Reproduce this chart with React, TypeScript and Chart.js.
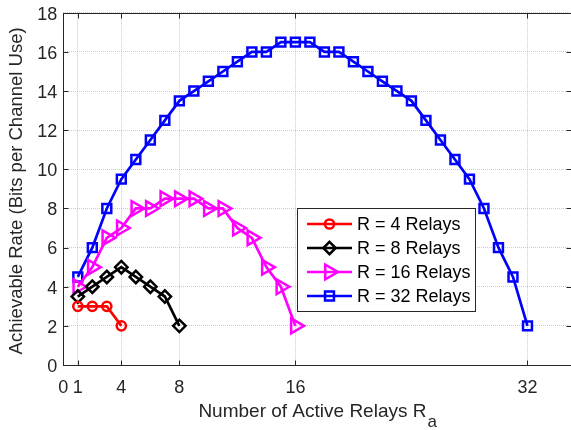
import React, { useEffect, useRef } from "react";
import { Chart, registerables } from "chart.js";
Chart.register(...registerables);

const xTickValues = [0, 1, 4, 8, 16, 32];
const yTickValues = [0, 2, 4, 6, 8, 10, 12, 14, 16, 18];

const seriesLabels = ["R = 4 Relays", "R = 8 Relays", "R = 16 Relays", "R = 32 Relays"];
const seriesColors = ["#FF0000", "#000000", "#FF00FF", "#0000FF"];

const rate4 = [3, 3, 3, 2];
const rate8 = [3.5, 4, 4.5, 5, 4.5, 4, 3.5, 2];
const rate16 = [4, 5, 6.5, 7, 8, 8, 8.5, 8.5, 8.5, 8, 8, 7, 6.5, 5, 4, 2];
const rate32 = [
  4.5, 6, 8, 9.5, 10.5, 11.5, 12.5, 13.5, 14, 14.5, 15, 15.5, 16, 16, 16.5, 16.5,
  16.5, 16, 16, 15.5, 15, 14.5, 14, 13.5, 12.5, 11.5, 10.5, 9.5, 8, 6, 4.5, 2,
];

const xTitle = "Number of Active Relays R";
const xTitleSub = "a";
const yTitle = "Achievable Rate (Bits per Channel Use)";

const FONT = "'Liberation Sans', Arial, Helvetica, sans-serif";
const AXIS_COLOR = "#262626";

const W = 571;
const H = 430;

const toPoints = (vals: number[]) => vals.map((y, i) => ({ x: i + 1, y }));

type Marker = { style: string; radius: number; rotation: number };
const markers: Marker[] = [
  { style: "circle", radius: 4.6, rotation: 0 },
  { style: "rectRot", radius: 6.2, rotation: 0 },
  { style: "triangle", radius: 8.5, rotation: 90 },
  { style: "rect", radius: 6.3, rotation: 0 },
];

// target plot box (pixels in the page); right edge lies just outside the window
const TARGET = { left: 63.3, top: 12.8, right: 575, bottom: 365 };

function drawMarker(ctx: CanvasRenderingContext2D, m: Marker, x: number, y: number, color: string) {
  ctx.save();
  ctx.strokeStyle = color;
  ctx.lineWidth = 2.5;
  ctx.beginPath();
  const r = m.radius;
  if (m.style === "circle") {
    ctx.arc(x, y, r, 0, Math.PI * 2);
  } else if (m.style === "rectRot") {
    ctx.moveTo(x, y - r);
    ctx.lineTo(x + r, y);
    ctx.lineTo(x, y + r);
    ctx.lineTo(x - r, y);
    ctx.closePath();
  } else if (m.style === "triangle") {
    const a0 = (m.rotation * Math.PI) / 180;
    for (let k = 0; k < 3; k++) {
      const a = a0 + (k * 2 * Math.PI) / 3;
      const px = x + Math.sin(a) * r;
      const py = y - Math.cos(a) * r;
      if (k === 0) ctx.moveTo(px, py);
      else ctx.lineTo(px, py);
    }
    ctx.closePath();
  } else {
    const s = r * Math.SQRT1_2;
    ctx.rect(x - s, y - s, 2 * s, 2 * s);
  }
  ctx.stroke();
  ctx.restore();
}

const decorPlugin = {
  id: "decor",
  afterDraw(chart: any) {
    const ctx: CanvasRenderingContext2D = chart.ctx;
    const { left, right, top, bottom } = chart.chartArea;
    const xs = chart.scales.x;
    const ys = chart.scales.y;
    ctx.save();
    ctx.strokeStyle = AXIS_COLOR;
    ctx.lineWidth = 1;
    const L = Math.round(left) + 0.5;
    const R = Math.round(right) + 0.5;
    const T = Math.round(top) + 0.5;
    const B = Math.round(bottom) + 0.5;
    ctx.beginPath();
    ctx.rect(L, T, R - L, B - T);
    ctx.stroke();
    const tl = 5;
    ctx.beginPath();
    xTickValues.forEach((v) => {
      const px = Math.round(xs.getPixelForValue(v)) + 0.5;
      ctx.moveTo(px, B);
      ctx.lineTo(px, B - tl);
      ctx.moveTo(px, T);
      ctx.lineTo(px, T + tl);
    });
    yTickValues.forEach((v) => {
      const py = Math.round(ys.getPixelForValue(v)) + 0.5;
      ctx.moveTo(L, py);
      ctx.lineTo(L + tl, py);
      ctx.moveTo(R, py);
      ctx.lineTo(R - tl, py);
    });
    ctx.stroke();

    // tick labels, placed through the scales
    ctx.fillStyle = AXIS_COLOR;
    ctx.font = `18px ${FONT}`;
    ctx.textBaseline = "alphabetic";
    ctx.textAlign = "center";
    xTickValues.forEach((v) => {
      ctx.fillText(String(v), xs.getPixelForValue(v), bottom + 27.5);
    });
    ctx.textAlign = "right";
    yTickValues.forEach((v) => {
      ctx.fillText(String(v), left - 6, ys.getPixelForValue(v) + 6.8);
    });

    // legend
    const lx = 297.5, ly = 208.5, lw = 178, lh = 103;
    ctx.fillStyle = "#FFFFFF";
    ctx.fillRect(lx, ly, lw, lh);
    ctx.strokeStyle = AXIS_COLOR;
    ctx.lineWidth = 1;
    ctx.strokeRect(lx, ly, lw, lh);
    ctx.font = `18px ${FONT}`;
    ctx.textBaseline = "middle";
    ctx.textAlign = "left";
    seriesLabels.forEach((lab, i) => {
      const y = 224 + i * 24;
      ctx.strokeStyle = seriesColors[i];
      ctx.lineWidth = 2.7;
      ctx.beginPath();
      ctx.moveTo(307, y);
      ctx.lineTo(352, y);
      ctx.stroke();
      drawMarker(ctx, markers[i], 329.5, y, seriesColors[i]);
      ctx.fillStyle = "#000000";
      ctx.fillText(lab, 357, y + 1);
    });

    // y title
    ctx.fillStyle = AXIS_COLOR;
    ctx.save();
    ctx.translate(17, (top + bottom) / 2 + 2);
    ctx.rotate(-Math.PI / 2);
    ctx.font = `18.5px ${FONT}`;
    ctx.textAlign = "center";
    ctx.textBaseline = "middle";
    ctx.fillText(yTitle, 0, 0);
    ctx.restore();

    // x title with subscript, centred under the plot box
    ctx.font = `19px ${FONT}`;
    const w1 = ctx.measureText(xTitle).width;
    ctx.font = `17px ${FONT}`;
    const w2 = ctx.measureText(xTitleSub).width;
    const cx = (left + right) / 2;
    const sx = cx - (w1 + w2) / 2;
    ctx.textAlign = "left";
    ctx.textBaseline = "alphabetic";
    ctx.font = `19px ${FONT}`;
    ctx.fillText(xTitle, sx, 416.5);
    ctx.font = `17px ${FONT}`;
    ctx.fillText(xTitleSub, sx + w1 + 1, 426.5);
    ctx.restore();
  },
};

export default function App() {
  const ref = useRef<HTMLCanvasElement | null>(null);
  useEffect(() => {
    if (!ref.current) return;
    const datasets = [rate4, rate8, rate16, rate32].map((vals, i) => ({
      label: seriesLabels[i],
      data: toPoints(vals),
      borderColor: seriesColors[i],
      backgroundColor: "rgba(0,0,0,0)",
      borderWidth: 2.7,
      pointStyle: markers[i].style as any,
      pointRadius: markers[i].radius,
      pointRotation: markers[i].rotation,
      pointBorderWidth: 2.5,
      pointBorderColor: seriesColors[i],
      pointBackgroundColor: "rgba(0,0,0,0)",
      tension: 0,
      fill: false,
    }));
    const gridColor = "rgba(160,160,160,0.55)";
    const chart = new Chart(ref.current, {
      type: "line",
      data: { datasets },
      plugins: [decorPlugin],
      options: {
        animation: false,
        responsive: false,
        devicePixelRatio: 1,
        layout: {
          autoPadding: false,
          padding: { left: 0, right: W - TARGET.right, top: TARGET.top, bottom: 0 },
        },
        plugins: { legend: { display: false }, tooltip: { enabled: false } },
        scales: {
          x: {
            type: "linear",
            min: 0,
            max: 35,
            afterBuildTicks: (scale: any) => {
              scale.ticks = xTickValues.map((v) => ({ value: v }));
            },
            afterFit: (scale: any) => {
              scale.height = H - TARGET.bottom;
            },
            ticks: { display: false },
            grid: { color: gridColor, drawTicks: false, lineWidth: 1 },
            border: { display: false, dash: [1, 1] },
          },
          y: {
            min: 0,
            max: 18,
            afterBuildTicks: (scale: any) => {
              scale.ticks = yTickValues.map((v) => ({ value: v }));
            },
            afterFit: (scale: any) => {
              scale.width = TARGET.left;
            },
            ticks: { display: false },
            grid: { color: gridColor, drawTicks: false, lineWidth: 1 },
            border: { display: false, dash: [1, 1] },
          },
        },
      },
    } as any);
    return () => chart.destroy();
  }, []);
  return (
    <div style={{ position: "fixed", left: 0, top: 0, width: W, height: H, background: "#fff", overflow: "hidden" }}>
      <canvas ref={ref} width={W} height={H} style={{ display: "block", width: W, height: H }} />
    </div>
  );
}
